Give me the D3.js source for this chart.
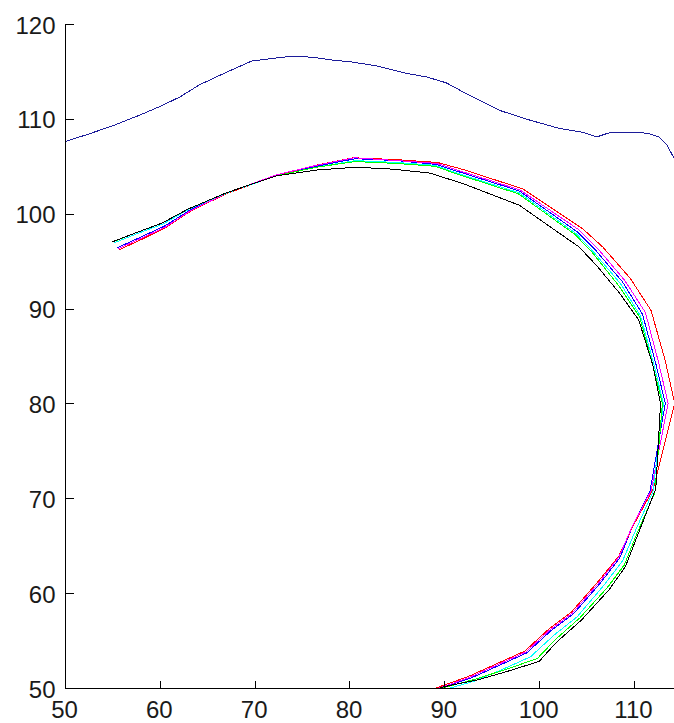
<!DOCTYPE html>
<html>
<head>
<meta charset="utf-8">
<script src="https://cdn.jsdelivr.net/npm/d3@7"></script>
<style>
  html, body { margin: 0; padding: 0; background: #ffffff; }
  svg { display: block; }
  .tick-label { font-family: "Liberation Sans", Arial, sans-serif; font-size: 24px; fill: #1a1a1a; }
</style>
</head>
<body>
<svg id="chart" width="674" height="723"></svg>
<script>
// ---- data ----
const xTicks = [50, 60, 70, 80, 90, 100, 110];
const yTicks = [50, 60, 70, 80, 90, 100, 110, 120];

// upper (blue) profile
const topX = [50.0, 52.5, 55.1, 57.9, 60.0, 62.1, 64.2, 67.0, 69.7, 71.3, 73.9, 76.1, 78.2, 80.2, 82.8, 86.0, 88.2, 90.2, 92.6, 95.8, 98.9, 102.1, 104.5, 106.1, 107.6, 111.4, 112.6, 113.5, 114.2, 114.6];
const topY = [107.6, 108.4, 109.3, 110.4, 111.3, 112.3, 113.6, 114.9, 116.1, 116.3, 116.6, 116.5, 116.2, 116.0, 115.6, 114.8, 114.4, 113.8, 112.5, 110.9, 109.9, 109.0, 108.6, 108.1, 108.6, 108.5, 108.1, 107.2, 105.9, 104.5];

// contour series
const redX = [55.7, 58.1, 60.7, 63.3, 67.0, 72.2, 76.4, 80.4, 85.0, 89.3, 92.2, 98.3, 104.6, 106.7, 109.6, 111.8, 113.3, 114.3, 112.0, 109.9, 108.4, 106.2, 103.4, 101.0, 98.5, 95.4, 92.5, 89.4, 88.7];
const redY = [96.2, 97.3, 98.6, 100.3, 102.1, 104.0, 105.1, 105.9, 105.7, 105.4, 104.6, 102.6, 98.4, 96.5, 93.2, 89.8, 84.5, 80.0, 70.9, 67.1, 63.9, 61.2, 58.0, 56.2, 53.9, 52.5, 51.2, 50.1, 49.8];

const magX = [55.6, 58.0, 60.6, 63.2, 67.1, 72.3, 76.5, 80.5, 85.0, 89.2, 92.0, 98.0, 104.2, 106.2, 109.0, 111.2, 112.6, 113.6, 111.8, 109.8, 108.4, 106.3, 103.5, 101.1, 98.6, 95.5, 92.6, 89.5, 88.8];
const magY = [96.3, 97.4, 98.6, 100.3, 102.2, 104.1, 105.1, 105.9, 105.6, 105.3, 104.4, 102.5, 98.3, 96.3, 93.0, 89.6, 84.3, 80.0, 70.8, 67.0, 63.8, 61.1, 57.9, 56.1, 53.8, 52.4, 51.1, 50.0, 49.8];

const bluX = [55.5, 57.9, 60.5, 63.2, 67.1, 72.3, 76.5, 80.6, 85.0, 89.1, 91.9, 97.9, 104.0, 106.0, 108.8, 110.9, 112.3, 113.3, 111.7, 109.8, 108.5, 106.4, 103.6, 101.2, 98.7, 95.6, 92.7, 89.6, 88.9];
const bluY = [96.4, 97.5, 98.7, 100.4, 102.2, 104.1, 105.0, 105.8, 105.6, 105.2, 104.3, 102.4, 98.1, 96.1, 92.8, 89.4, 84.2, 80.0, 70.8, 66.9, 63.7, 61.0, 57.8, 56.0, 53.7, 52.3, 51.0, 50.0, 49.8];

const cyaX = [55.1, 57.6, 60.3, 63.1, 67.1, 72.3, 76.5, 80.6, 85.0, 89.0, 91.9, 97.9, 103.9, 105.8, 108.6, 110.7, 112.1, 113.1, 112.0, 110.2, 108.8, 106.8, 104.0, 101.6, 99.1, 96.0, 93.1, 89.9, 89.1];
const cyaY = [96.9, 97.9, 98.9, 100.5, 102.2, 104.0, 104.9, 105.6, 105.4, 105.1, 104.1, 102.2, 97.9, 95.9, 92.6, 89.2, 84.1, 80.0, 70.7, 66.7, 63.4, 60.8, 57.5, 55.6, 53.3, 51.9, 50.7, 49.8, 49.6];

const grnX = [55.0, 57.5, 60.2, 63.0, 67.0, 72.3, 76.5, 80.6, 85.0, 89.0, 91.9, 97.8, 103.8, 105.7, 108.4, 110.6, 112.0, 113.0, 112.2, 110.4, 109.0, 107.2, 104.3, 101.7, 99.8, 96.6, 93.5, 89.8, 89.0];
const grnY = [97.0, 98.0, 99.0, 100.5, 102.2, 104.0, 104.9, 105.5, 105.3, 105.0, 104.0, 102.1, 97.8, 95.8, 92.4, 89.1, 84.0, 80.0, 70.6, 66.5, 63.0, 60.6, 57.4, 55.1, 53.1, 52.0, 51.0, 50.0, 49.8];

const blkX = [54.9, 57.5, 60.2, 63.0, 67.0, 72.3, 76.5, 80.7, 84.5, 88.4, 91.9, 97.9, 104.2, 106.0, 108.5, 110.5, 112.0, 112.8, 112.3, 110.5, 109.1, 107.4, 104.5, 101.8, 100.0, 96.8, 93.7, 89.8, 89.0];
const blkY = [97.0, 98.0, 99.0, 100.5, 102.2, 104.0, 104.6, 104.9, 104.7, 104.3, 103.2, 100.9, 96.5, 94.6, 91.6, 88.8, 84.0, 80.0, 71.0, 66.4, 62.8, 60.4, 57.2, 54.8, 52.8, 51.8, 50.9, 50.1, 49.8];

const seriesColors = ["#0000ff", "#ff0000", "#ff00ff", "#00ffff", "#00ff00", "#000000"];

// ---- layout ----
const svg = d3.select("#chart");
const pLeft = 65, pRight = 674, pTop = 24, pBottom = 688;

const x = d3.scaleLinear().domain([50, 114.22]).range([pLeft, pRight]);
const y = d3.scaleLinear().domain([50, 120]).range([pBottom, pTop]);

svg.append("defs").append("clipPath").attr("id", "plotclip")
  .append("rect").attr("x", pLeft).attr("y", pTop - 2).attr("width", pRight - pLeft).attr("height", pBottom - pTop + 2);

const zip = (xs, ys) => xs.map((v, i) => [v, ys[i]]);
const line = d3.line().x(d => x(d[0])).y(d => y(d[1]));

const plot = svg.append("g").attr("clip-path", "url(#plotclip)");

const series = [
  zip(bluX, bluY), zip(redX, redY), zip(magX, magY),
  zip(cyaX, cyaY), zip(grnX, grnY), zip(blkX, blkY)
];
series.forEach((s, i) => {
  plot.append("path").datum(s)
    .attr("d", line)
    .attr("fill", "none")
    .attr("stroke", seriesColors[i])
    .attr("stroke-width", 1)
    .attr("shape-rendering", "crispEdges");
});

plot.append("path").datum(zip(topX, topY))
  .attr("d", line)
  .attr("fill", "none")
  .attr("stroke", "#1c1c9a")
  .attr("stroke-width", 1)
  .attr("shape-rendering", "crispEdges");

// ---- axes ----
const xAxis = d3.axisBottom(x).tickValues(xTicks).tickSize(-8).tickPadding(10).tickFormat(d3.format("d"));
const yAxis = d3.axisLeft(y).tickValues(yTicks).tickSize(-8).tickPadding(10).tickFormat(d3.format("d"));

const gx = svg.append("g").attr("transform", `translate(0,${pBottom + 0.5})`).call(xAxis);
const gy = svg.append("g").attr("transform", `translate(${pLeft + 0.5},0)`).call(yAxis);

[gx, gy].forEach(g => {
  g.select(".domain").remove();
  g.selectAll(".tick line").attr("stroke", "#000").attr("shape-rendering", "crispEdges");
  g.selectAll(".tick text").attr("class", "tick-label").attr("fill", null);
  g.attr("font-size", null).attr("font-family", null);
});
gx.selectAll(".tick text").attr("dy", null).attr("y", 29).attr("x", -1);
gy.selectAll(".tick text").attr("dy", null).attr("y", 9).attr("x", -10);

// axis lines
svg.append("line").attr("x1", pLeft + 0.5).attr("x2", pLeft + 0.5).attr("y1", pTop).attr("y2", pBottom + 1)
  .attr("stroke", "#000").attr("stroke-width", 1).attr("shape-rendering", "crispEdges");
svg.append("line").attr("x1", pLeft).attr("x2", pRight).attr("y1", pBottom + 0.5).attr("y2", pBottom + 0.5)
  .attr("stroke", "#000").attr("stroke-width", 1).attr("shape-rendering", "crispEdges");
</script>
</body>
</html>
